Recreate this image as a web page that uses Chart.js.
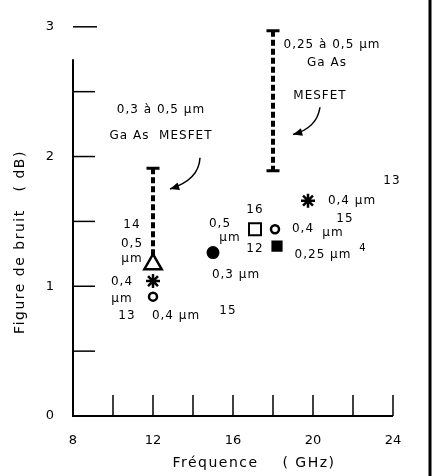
<!DOCTYPE html>
<html>
<head>
<meta charset="utf-8">
<script src="https://cdn.jsdelivr.net/npm/chart.js@4"></script>
<style>
  body { margin: 0; background: #fff; }
  #wrap { width: 438px; height: 476px; }
</style>
</head>
<body>
<div id="wrap"><canvas id="noiseChart" width="438" height="476"></canvas></div>
<script>
// values (frequency in GHz, noise figure in dB)
const openTriangle = [{ x: 12, y: 1.17 }];
const asterisks = [{ x: 12, y: 1.04 }, { x: 19.75, y: 1.66 }];
const openCircles = [{ x: 12, y: 0.92 }, { x: 18.1, y: 1.44 }];
const filledCircle = [{ x: 15, y: 1.26 }];
const openSquare = [{ x: 17.1, y: 1.44 }];
const filledSquare = [{ x: 18.2, y: 1.31 }];
const rangeLeft = [{ x: 12, y: 1.91 }, { x: 12, y: 1.23 }];
const rangeRight = [{ x: 18, y: 2.97 }, { x: 18, y: 1.89 }];

const xLabelTicks = [8, 12, 16, 20, 24];
const yLabelTicks = [0, 1, 2, 3];

// text notes, placed in data units
const notes = [
    { text: '0,3 à 0,5 µm', x: 12.4, y: 2.36 },
    { text: 'Ga As  MESFET', x: 12.4, y: 2.16 },
    { text: '0,25 à 0,5 µm', x: 20.95, y: 2.86 },
    { text: 'Ga As', x: 20.7, y: 2.72 },
    { text: 'MESFET', x: 20.35, y: 2.47 },
    { text: '14', x: 10.95, y: 1.47 },
    { text: '0,5', x: 10.95, y: 1.33 },
    { text: 'µm', x: 10.95, y: 1.21 },
    { text: '0,4', x: 10.45, y: 1.03 },
    { text: 'µm', x: 10.45, y: 0.9 },
    { text: '13', x: 10.7, y: 0.77 },
    { text: '0,4 µm', x: 13.15, y: 0.77 },
    { text: '15', x: 15.75, y: 0.81 },
    { text: '16', x: 17.1, y: 1.59 },
    { text: '0,5', x: 15.35, y: 1.48 },
    { text: 'µm', x: 15.85, y: 1.37 },
    { text: '12', x: 17.1, y: 1.29 },
    { text: '0,3 µm', x: 16.15, y: 1.09 },
    { text: '0,4', x: 19.5, y: 1.44 },
    { text: '15', x: 21.6, y: 1.52 },
    { text: 'µm', x: 21.0, y: 1.41 },
    { text: '0,25 µm', x: 20.5, y: 1.24 },
    { text: '4', x: 22.5, y: 1.29, small: true },
    { text: '0,4 µm', x: 21.95, y: 1.66 },
    { text: '13', x: 23.95, y: 1.81 }
];

const arrows = [
    { from: [14.35, 1.99], ctrl: [14.3, 1.82], to: [12.85, 1.75] },
    { from: [20.35, 2.38], ctrl: [20.2, 2.22], to: [19.0, 2.17] }
];

const FONT = '"DejaVu Sans", sans-serif';

const decorPlugin = {
    id: 'decor',
    afterDraw(chart) {
        const ctx = chart.ctx;
        const xs = chart.scales.x;
        const ys = chart.scales.y;
        const px = v => xs.getPixelForValue(v);
        const py = v => ys.getPixelForValue(v);
        ctx.save();
        ctx.strokeStyle = '#000';
        ctx.fillStyle = '#000';

        // axes
        ctx.lineWidth = 2;
        ctx.beginPath();
        ctx.moveTo(px(8), py(2.75));
        ctx.lineTo(px(8), py(0));
        ctx.lineTo(px(24), py(0));
        ctx.stroke();

        // inward ticks
        ctx.lineWidth = 1.5;
        for (let v = 0.5; v <= 3; v += 0.5) {
            ctx.beginPath();
            ctx.moveTo(px(8), py(v));
            ctx.lineTo(px(8) + (v === 3 ? 24 : 22), py(v));
            ctx.stroke();
        }
        for (let v = 10; v <= 24; v += 2) {
            ctx.beginPath();
            ctx.moveTo(px(v), py(0));
            ctx.lineTo(px(v), py(0) - 21);
            ctx.stroke();
        }

        // frame line on the right
        ctx.lineWidth = 3;
        ctx.beginPath();
        ctx.moveTo(430, 0);
        ctx.lineTo(430, 476);
        ctx.stroke();

        // notes
        ctx.textAlign = 'center';
        ctx.textBaseline = 'middle';
        ctx.letterSpacing = '1px';
        notes.forEach(n => {
            ctx.font = (n.small ? '10px ' : '12px ') + FONT;
            ctx.fillText(n.text, px(n.x), py(n.y));
        });

        // arrows
        ctx.lineWidth = 1.5;
        arrows.forEach(a => {
            const [x0, y0] = [px(a.from[0]), py(a.from[1])];
            const [cx, cy] = [px(a.ctrl[0]), py(a.ctrl[1])];
            const [x1, y1] = [px(a.to[0]), py(a.to[1])];
            ctx.beginPath();
            ctx.moveTo(x0, y0);
            ctx.quadraticCurveTo(cx, cy, x1, y1);
            ctx.stroke();
            const ang = Math.atan2(y1 - cy, x1 - cx);
            ctx.beginPath();
            ctx.moveTo(x1, y1);
            ctx.lineTo(x1 - 10 * Math.cos(ang - 0.4), y1 - 10 * Math.sin(ang - 0.4));
            ctx.lineTo(x1 - 10 * Math.cos(ang + 0.4), y1 - 10 * Math.sin(ang + 0.4));
            ctx.closePath();
            ctx.fill();
        });

        // axis titles
        ctx.font = '14px ' + FONT;
        ctx.letterSpacing = '1.5px';
        ctx.fillText('Fréquence    ( GHz)', 254, 463);
        ctx.translate(20, 242);
        ctx.rotate(-Math.PI / 2);
        ctx.fillText('Figure de bruit   ( dB)', 0, 0);
        ctx.restore();
    }
};

const point = (data, style, radius, fill, bw) => ({
    data,
    pointStyle: style,
    pointRadius: radius,
    pointBackgroundColor: fill,
    pointBorderColor: '#000',
    pointBorderWidth: bw || 2,
    order: 1
});

const range = (data, radii) => ({
    data,
    showLine: true,
    borderColor: '#000',
    borderWidth: 4,
    borderDash: [6, 3],
    pointStyle: 'line',
    pointRadius: radii,
    pointBorderColor: '#000',
    pointBorderWidth: 3,
    order: 5
});

new Chart(document.getElementById('noiseChart'), {
    type: 'scatter',
    data: {
        datasets: [
            point(openTriangle, 'triangle', 10, '#fff', 2.5),
            point(asterisks, 'star', 7, '#000', 2.5),
            point(openCircles, 'circle', 4, '#fff', 2.5),
            point(filledCircle, 'circle', 5.5, '#000'),
            point(openSquare, 'rect', 8.5, '#fff'),
            point(filledSquare, 'rect', 6.5, '#000'),
            range(rangeLeft, [6.5, 0]),
            range(rangeRight, [6.5, 6.5])
        ]
    },
    options: {
        responsive: false,
        animation: false,
        layout: { padding: { top: 15, right: 45, left: 0, bottom: 0 } },
        plugins: { legend: { display: false }, tooltip: { enabled: false } },
        scales: {
            x: {
                type: 'linear',
                min: 8,
                max: 24,
                afterFit: s => { s.height = 60; },
                afterBuildTicks: s => { s.ticks = xLabelTicks.map(v => ({ value: v })); },
                grid: { display: false, drawTicks: false },
                border: { display: false },
                ticks: { padding: 17, color: '#000', font: { family: FONT, size: 13 } }
            },
            y: {
                type: 'linear',
                min: 0,
                max: 3,
                afterFit: s => { s.width = 73; },
                afterBuildTicks: s => { s.ticks = yLabelTicks.map(v => ({ value: v })); },
                grid: { display: false, drawTicks: false },
                border: { display: false },
                ticks: { padding: 19, color: '#000', font: { family: FONT, size: 13 } }
            }
        }
    },
    plugins: [decorPlugin]
});
</script>
</body>
</html>
